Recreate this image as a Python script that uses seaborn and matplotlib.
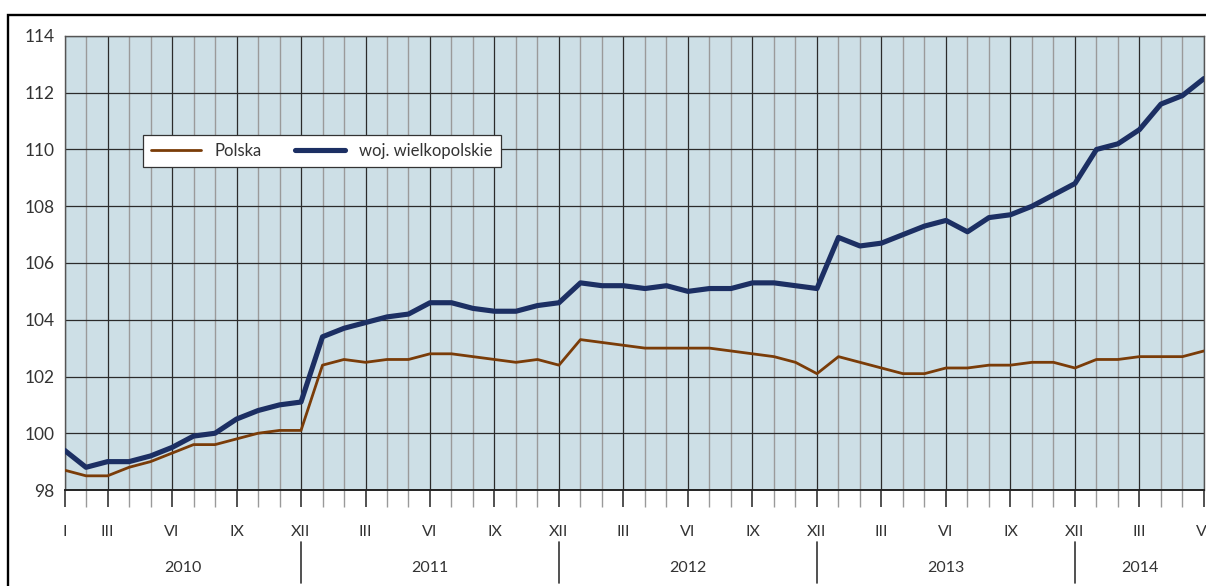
import pandas as pd
import matplotlib.pyplot as plt
import seaborn as sns
from matplotlib.patches import Rectangle
from matplotlib.lines import Line2D
from matplotlib.ticker import FixedLocator, MultipleLocator
import matplotlib.transforms as mtransforms

# miesiace I 2010 - VI 2014
miesiace = ['I', 'II', 'III', 'IV', 'V', 'VI', 'VII', 'VIII', 'IX', 'X', 'XI', 'XII'] * 4 + \
           ['I', 'II', 'III', 'IV', 'V', 'VI']
lata = ['2010', '2011', '2012', '2013', '2014']
pokazane = ['I', 'III', 'VI', 'IX', 'XII']

polska = [98.7, 98.5, 98.5, 98.8, 99.0, 99.3, 99.6, 99.6, 99.8, 100.0, 100.1, 100.1,
          102.4, 102.6, 102.5, 102.6, 102.6, 102.8, 102.8, 102.7, 102.6, 102.5, 102.6, 102.4,
          103.3, 103.2, 103.1, 103.0, 103.0, 103.0, 103.0, 102.9, 102.8, 102.7, 102.5, 102.1,
          102.7, 102.5, 102.3, 102.1, 102.1, 102.3, 102.3, 102.4, 102.4, 102.5, 102.5, 102.3,
          102.6, 102.6, 102.7, 102.7, 102.7, 102.9]
wielkopolskie = [99.4, 98.8, 99.0, 99.0, 99.2, 99.5, 99.9, 100.0, 100.5, 100.8, 101.0, 101.1,
                 103.4, 103.7, 103.9, 104.1, 104.2, 104.6, 104.6, 104.4, 104.3, 104.3, 104.5, 104.6,
                 105.3, 105.2, 105.2, 105.1, 105.2, 105.0, 105.1, 105.1, 105.3, 105.3, 105.2, 105.1,
                 106.9, 106.6, 106.7, 107.0, 107.3, 107.5, 107.1, 107.6, 107.7, 108.0, 108.4, 108.8,
                 110.0, 110.2, 110.7, 111.6, 111.9, 112.5]

df = pd.DataFrame({'t': range(len(miesiace)), 'Polska': polska,
                   'woj. wielkopolskie': wielkopolskie})

sns.set_style("white")
plt.rcParams['font.family'] = ['Lato', 'DejaVu Sans']

fig = plt.figure(figsize=(12.06, 5.86), dpi=100)
ax = fig.add_axes([0.0535, 0.1638, 0.9448, 0.7748])
ax.set_facecolor('#cddfe6')

sns.lineplot(data=df, x='t', y='Polska', ax=ax, color='#7a3c08', linewidth=2.0,
             label='Polska', zorder=5)
sns.lineplot(data=df, x='t', y='woj. wielkopolskie', ax=ax, color='#1c2f63', linewidth=3.7,
             label='woj. wielkopolskie', zorder=6)

n = len(miesiace)
ax.set_xlim(0, n - 1)
ax.set_ylim(98, 114)
ax.set_yticks(range(98, 115, 2))

# os X: glowne podzialki co kwartal (I, III, VI, IX, XII), pomocnicze co miesiac
glowne = [i for i, m in enumerate(miesiace) if (i == 0 or m in pokazane[1:])]
glowne.append(n - 1)
glowne = sorted(set(glowne))
ax.xaxis.set_major_locator(FixedLocator(glowne))
ax.set_xticklabels([miesiace[i] for i in glowne])
ax.xaxis.set_minor_locator(MultipleLocator(1))

ax.grid(which='major', axis='both', color='#2b2b2b', linewidth=0.9)
ax.grid(which='minor', axis='x', color='#9a9a9a', linewidth=1.0)
ax.set_axisbelow(True)

ax.tick_params(axis='x', which='major', direction='out', length=12, width=1.1,
               color='#222222', pad=13, labelsize=11.5, labelcolor='#333333', bottom=True)
ax.tick_params(axis='x', which='minor', direction='out', length=12, width=1.0,
               color='#9a9a9a', bottom=True)
ax.tick_params(axis='y', which='major', length=0, pad=7, labelsize=12.5, labelcolor='#333333')

for s in ['top', 'right', 'left']:
    ax.spines[s].set_color('#555555')
    ax.spines[s].set_linewidth(1.0)
ax.spines['bottom'].set_color('#222222')
ax.spines['bottom'].set_linewidth(1.4)

ax.set_xlabel('')
ax.set_ylabel('')

# podpisy lat i separatory
trans = mtransforms.blended_transform_factory(ax.transData, ax.transAxes)
granice = [0] + [i for i, m in enumerate(miesiace) if m == 'XII'] + [n - 1]
for k, rok in enumerate(lata):
    ax.text((granice[k] + granice[k + 1]) / 2, -0.172, rok, transform=trans,
            ha='center', va='center', fontsize=11.5, color='#333333')
for g in granice[1:-1]:
    ax.add_line(Line2D([g, g], [-0.114, -0.205], transform=trans, color='#333333',
                       linewidth=1.2, clip_on=False))

leg = ax.legend(loc='upper left', bbox_to_anchor=(0.069, 0.783), ncol=2, frameon=True,
                fancybox=False, framealpha=1, edgecolor='#333333', fontsize=12,
                handlelength=3.0, handletextpad=0.8, columnspacing=2.0,
                borderpad=0.5, borderaxespad=0)
leg.get_frame().set_linewidth(0.9)
for t in leg.get_texts():
    t.set_color('#333333')

# ramka calego wykresu
fig.add_artist(Rectangle((7.5 / 1206, -0.2), 1.2, 1.2 - 14.5 / 586, transform=fig.transFigure,
                         fill=False, edgecolor='black', linewidth=1.7))

fig.savefig('out.png', dpi=100)
